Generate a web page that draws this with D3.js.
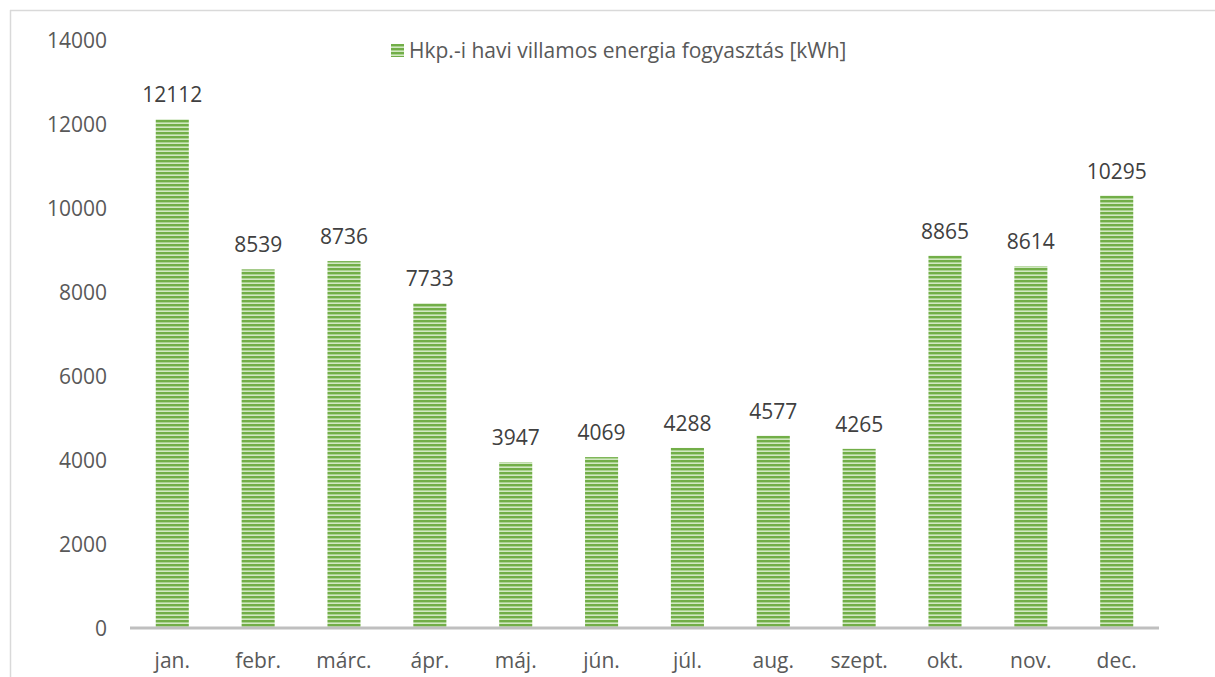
<!DOCTYPE html>
<html><head><meta charset="utf-8">
<script src="https://cdn.jsdelivr.net/npm/d3@7"></script>
<style>body{margin:0;background:#fff}svg{display:block}text{font-family:"Open Sans",sans-serif;fill:#595959}</style>
</head><body>
<svg id="c" width="1215" height="677"></svg>
<script>
const categories = ["jan.","febr.","márc.","ápr.","máj.","jún.","júl.","aug.","szept.","okt.","nov.","dec."];
const values = [12112,8539,8736,7733,3947,4069,4288,4577,4265,8865,8614,10295];
const yTicks = [0,2000,4000,6000,8000,10000,12000,14000];
const seriesName = "Hkp.-i havi villamos energia fogyasztás [kWh]";

const svg = d3.select("#c");
const defs = svg.append("defs");
const pat = defs.append("pattern").attr("id","stripe").attr("patternUnits","userSpaceOnUse")
  .attr("width",8).attr("height",4);
pat.append("rect").attr("width",8).attr("height",4).attr("fill","#d2e7c3");
pat.append("rect").attr("width",8).attr("height",2).attr("fill","#72ae48");
pat.append("rect").attr("y",2).attr("width",8).attr("height",0.8).attr("fill","#a2cf84");

// frame
svg.append("line").attr("x1",10).attr("x2",1215).attr("y1",10.5).attr("y2",10.5).attr("stroke","#d9d9d9").attr("stroke-width",1.5);
svg.append("line").attr("x1",10.5).attr("x2",10.5).attr("y1",10).attr("y2",677).attr("stroke","#d9d9d9").attr("stroke-width",1.5);

const x = d3.scaleBand().domain(categories).range([130,1159]).paddingInner(0.615).paddingOuter(0.3);
const y = d3.scaleLinear().domain([0,14000]).range([628,40]);

const fs = 21;

// y labels
svg.append("g").selectAll("text").data(yTicks).join("text")
  .attr("x",107).attr("y",d=>y(d)).attr("dy","0.36em").attr("text-anchor","end")
  .attr("font-size",fs).text(d=>d);

// bars
svg.append("g").selectAll("rect").data(values).join("rect")
  .attr("x",(d,i)=>x(categories[i])).attr("width",x.bandwidth())
  .attr("y",d=>y(d)).attr("height",d=>y(0)-y(d)).attr("fill","url(#stripe)");

// value labels
svg.append("g").selectAll("text").data(values).join("text")
  .attr("x",(d,i)=>x(categories[i])+x.bandwidth()/2).attr("y",d=>y(d)-17)
  .attr("text-anchor","middle").attr("font-size",fs).style("fill","#404040").text(d=>d);

// axis line
svg.append("line").attr("x1",130).attr("x2",1159).attr("y1",y(0)).attr("y2",y(0)).attr("stroke","#bfbfbf").attr("stroke-width",3);

// x labels
svg.append("g").selectAll("text").data(categories).join("text")
  .attr("x",d=>x(d)+x.bandwidth()/2).attr("y",660).attr("dy","0.36em").attr("text-anchor","middle")
  .attr("font-size",fs).text(d=>d);

// legend
svg.append("rect").attr("x",391).attr("y",44).attr("width",13).attr("height",13).attr("fill","url(#stripe)");
svg.append("text").attr("x",409).attr("y",50.5).attr("dy","0.36em").attr("font-size",fs).text(seriesName);
</script>
</body></html>
